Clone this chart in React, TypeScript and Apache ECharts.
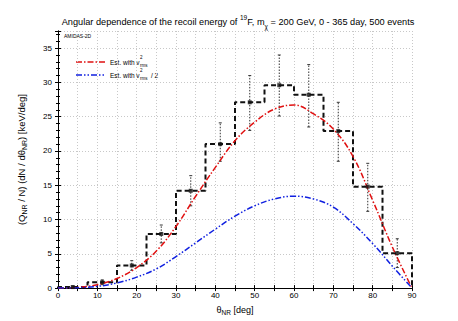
import React, { useEffect, useRef } from "react";
import * as echarts from "echarts";

const binEdges = [0, 7.5, 15, 22.5, 30, 37.5, 45, 52.5, 60, 67.5, 75, 82.5, 90];
const binCenters = [3.75, 11.25, 18.75, 26.25, 33.75, 41.25, 48.75, 56.25, 63.75, 71.25, 78.75, 86.25];
const histValues = [0.15, 0.85, 3.3, 7.9, 14.2, 21.0, 27.1, 29.6, 28.2, 22.9, 14.8, 5.1];
const errUpper = [0.3, 1.2, 4.0, 9.2, 16.4, 24.1, 31.0, 34.0, 32.6, 27.1, 18.2, 7.2];
const errLower = [0.05, 0.5, 2.6, 6.6, 12.0, 18.5, 23.0, 25.1, 23.5, 18.5, 11.2, 3.0];

const curveAngles = [0, 5, 10, 15, 20, 25, 30, 35, 40, 45, 50, 55, 60, 65, 70, 75, 80, 85, 90];
const redCurve = [0, 0.1, 0.5, 1.4, 3.0, 5.4, 9.0, 13.4, 17.6, 21.5, 24.2, 26.1, 26.7, 25.4, 23.2, 19.2, 12.8, 6.0, 0];
const blueCurve = [0, 0.05, 0.25, 0.75, 1.6, 2.8, 4.6, 6.6, 8.6, 10.5, 12.0, 13.0, 13.4, 13.0, 11.8, 9.4, 6.5, 3.2, 0];

const FONT = "'Liberation Sans', Arial, Helvetica, sans-serif";

export default function App() {
  const ref = useRef<HTMLDivElement>(null);
  useEffect(() => {
    if (!ref.current) return;
    const chart = echarts.init(ref.current, null, { renderer: "svg" });

    const stepData: number[][] = [[binEdges[0], 0]];
    histValues.forEach((v, i) => {
      stepData.push([binEdges[i], v]);
      stepData.push([binEdges[i + 1], v]);
    });
    stepData.push([binEdges[binEdges.length - 1], 0]);

    const gridLine = { show: true, lineStyle: { color: "#c8c8c8", type: [1, 2] as any, width: 1 } };
    const axisLineStyle = { show: true, lineStyle: { color: "#000", width: 1 } };

    const option: any = {
      animation: false,
      backgroundColor: "#fff",
      textStyle: { fontFamily: FONT },
      title: {
        text: "Angular dependence of the recoil energy of {sup|19}F, m{sub|χ} = 200 GeV, 0 - 365 day, 500 events",
        left: 233,
        textAlign: "center",
        top: 9,
        textStyle: {
          fontSize: 9.2,
          fontWeight: "normal",
          color: "#000",
          fontFamily: FONT,
          lineHeight: 16,
          rich: {
            sup: { fontSize: 6.5, verticalAlign: "top", lineHeight: 9, fontFamily: FONT, color: "#000" },
            sub: { fontSize: 6.5, verticalAlign: "bottom", lineHeight: 9, fontFamily: FONT, color: "#000" },
          },
        },
      },
      grid: { left: 58, top: 31, width: 354, height: 262, containLabel: false },
      xAxis: [
        {
          type: "value",
          min: 0,
          max: 90,
          interval: 10,
          name: "θ{sub|NR} [deg]",
          nameLocation: "middle",
          nameGap: 12,
          nameTextStyle: {
            fontSize: 9,
            color: "#000",
            fontFamily: FONT,
            lineHeight: 12,
            rich: { sub: { fontSize: 6.5, verticalAlign: "bottom", lineHeight: 8, fontFamily: FONT, color: "#000" } },
          },
          axisLine: axisLineStyle,
          axisTick: { show: true, inside: true, length: 3, lineStyle: { color: "#000" } },
          minorTick: { show: true, splitNumber: 2, length: 3, lineStyle: { color: "#000" } },
          axisLabel: { fontSize: 8, color: "#000", margin: 3, fontFamily: FONT },
          splitLine: gridLine,
          minorSplitLine: gridLine,
        },
        {
          type: "value",
          position: "top",
          min: 0,
          max: 90,
          interval: 10,
          axisLine: axisLineStyle,
          axisTick: { show: true, inside: true, length: 3, lineStyle: { color: "#000" } },
          minorTick: { show: true, splitNumber: 2, length: 3, lineStyle: { color: "#000" } },
          axisLabel: { show: false },
          splitLine: { show: false },
        },
      ],
      yAxis: [
        {
          type: "value",
          min: 0,
          max: 37.5,
          interval: 5,
          name: "(Q{sub|NR} / N) (dN / dθ{sub|NR}) [keV/deg]",
          nameLocation: "middle",
          nameRotate: 90,
          nameGap: 30,
          nameTextStyle: {
            fontSize: 9.5,
            color: "#000",
            fontFamily: FONT,
            lineHeight: 14,
            rich: { sub: { fontSize: 7, verticalAlign: "bottom", lineHeight: 8, fontFamily: FONT, color: "#000" } },
          },
          axisLine: axisLineStyle,
          axisTick: { show: true, inside: true, length: 3, lineStyle: { color: "#000" } },
          minorTick: { show: true, splitNumber: 5, length: 2, lineStyle: { color: "#000" } },
          axisLabel: { fontSize: 8, color: "#000", margin: 6, fontFamily: FONT, showMaxLabel: false },
          splitLine: gridLine,
        },
        {
          type: "value",
          position: "right",
          min: 0,
          max: 37.5,
          interval: 5,
          axisLine: axisLineStyle,
          axisTick: { show: true, inside: true, length: 3, lineStyle: { color: "#000" } },
          minorTick: { show: true, splitNumber: 5, length: 2, lineStyle: { color: "#000" } },
          axisLabel: { show: false },
          splitLine: { show: false },
        },
      ],
      series: [
        {
          name: "errors",
          type: "custom",
          xAxisIndex: 0,
          yAxisIndex: 0,
          data: binCenters.map((c, i) => [c, errLower[i], errUpper[i]]),
          encode: { x: 0, y: [1, 2] },
          renderItem: (params: any, api: any) => {
            const x = api.value(0);
            const lo = api.coord([x, api.value(1)]);
            const hi = api.coord([x, api.value(2)]);
            const cap = 1.5;
            const st = { stroke: "#333", lineWidth: 1 };
            return {
              type: "group",
              children: [
                { type: "line", shape: { x1: lo[0], y1: lo[1], x2: hi[0], y2: hi[1] }, style: { ...st, lineDash: [1.5, 1.5] } },
                { type: "line", shape: { x1: hi[0] - cap, y1: hi[1], x2: hi[0] + cap, y2: hi[1] }, style: st },
                { type: "line", shape: { x1: lo[0] - cap, y1: lo[1], x2: lo[0] + cap, y2: lo[1] }, style: st },
              ],
            };
          },
          z: 2,
        },
        {
          name: "hist",
          type: "line",
          data: stepData,
          symbol: "none",
          lineStyle: { color: "#111", width: 2, type: [5, 3] },
          z: 3,
        },
        {
          name: "markers",
          type: "scatter",
          data: binCenters.map((c, i) => [c, histValues[i]]),
          symbol: "rect",
          symbolSize: 4,
          itemStyle: { color: "#111" },
          z: 5,
        },
        {
          name: "red",
          type: "line",
          data: curveAngles.map((a, i) => [a, redCurve[i]]),
          smooth: 0.4,
          symbol: "none",
          lineStyle: { color: "#e01010", width: 1.5, type: [6, 2, 1.5, 2] },
          z: 4,
        },
        {
          name: "blue",
          type: "line",
          data: curveAngles.map((a, i) => [a, blueCurve[i]]),
          smooth: 0.4,
          symbol: "none",
          lineStyle: { color: "#1020e0", width: 1.5, type: [6, 2, 1.5, 2, 1.5, 2] },
          z: 4,
        },
      ],
      graphic: [
        { type: "text", left: 64, top: 33, style: { text: "AMIDAS-2D", fontSize: 5, fill: "#000", fontFamily: FONT } },
        { type: "line", shape: { x1: 76, y1: 62, x2: 105, y2: 62 }, style: { stroke: "#e01010", lineWidth: 1.5, lineDash: [6, 2, 1.5, 2] } },
        { type: "text", x: 110, y: 58.5, style: { text: "Est. with v", fontSize: 6.5, fill: "#000", fontFamily: FONT } },
        { type: "text", x: 140, y: 55, style: { text: "2", fontSize: 4.5, fill: "#000", fontFamily: FONT } },
        { type: "text", x: 140, y: 62.5, style: { text: "rms", fontSize: 4.5, fill: "#000", fontFamily: FONT } },
        { type: "line", shape: { x1: 76, y1: 75, x2: 105, y2: 75 }, style: { stroke: "#1020e0", lineWidth: 1.5, lineDash: [6, 2, 1.5, 2, 1.5, 2] } },
        { type: "text", x: 110, y: 71.5, style: { text: "Est. with v", fontSize: 6.5, fill: "#000", fontFamily: FONT } },
        { type: "text", x: 140, y: 68.2, style: { text: "2", fontSize: 4.5, fill: "#000", fontFamily: FONT } },
        { type: "text", x: 140, y: 75.5, style: { text: "rms", fontSize: 4.5, fill: "#000", fontFamily: FONT } },
        { type: "text", x: 151, y: 71.5, style: { text: "/ 2", fontSize: 6.5, fill: "#000", fontFamily: FONT } },
      ],
    };
    chart.setOption(option);
    return () => chart.dispose();
  }, []);
  return (
    <div
      ref={ref}
      style={{ position: "fixed", left: 0, top: 0, width: 458, height: 321, background: "#fff" }}
    />
  );
}
